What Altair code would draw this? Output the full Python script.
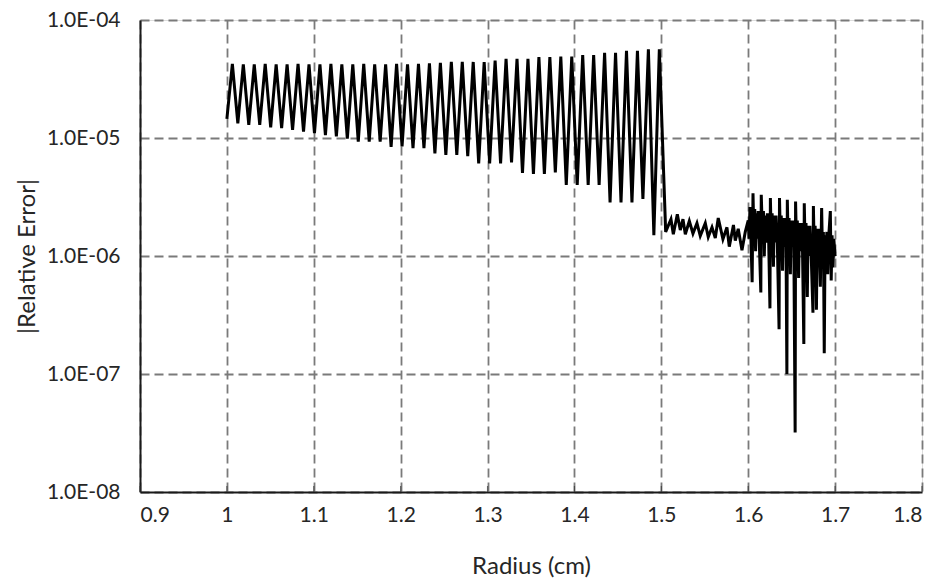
import altair as alt
import pandas as pd

# ---- data ----
# main zigzag 1.0 - 1.5 cm: troughs and peaks
trough_r = [1.0000, 1.0126, 1.0252, 1.0378, 1.0504, 1.0630, 1.0756, 1.0882, 1.1008, 1.1134,
            1.1260, 1.1386, 1.1512, 1.1638, 1.1764, 1.1890, 1.2016, 1.2142, 1.2268, 1.2394,
            1.2520, 1.2646, 1.2772, 1.2898, 1.3024, 1.3150, 1.3276, 1.3402, 1.3528, 1.3654,
            1.3780, 1.3906, 1.4032, 1.4158, 1.4284, 1.4410, 1.4536, 1.4662, 1.4788, 1.4914]
trough_err = [1.45e-5, 1.33e-5, 1.29e-5, 1.29e-5, 1.23e-5, 1.21e-5, 1.17e-5, 1.13e-5, 1.10e-5, 1.06e-5,
              1.03e-5, 9.9e-6, 9.3e-6, 9.3e-6, 9.3e-6, 8.4e-6, 8.5e-6, 8.2e-6, 8.2e-6, 7.4e-6,
              7.2e-6, 7.2e-6, 7.0e-6, 6.1e-6, 6.1e-6, 6.1e-6, 6.2e-6, 5.05e-6, 4.95e-6, 4.95e-6,
              5.1e-6, 4.0e-6, 4.0e-6, 4.0e-6, 4.0e-6, 2.85e-6, 2.85e-6, 2.85e-6, 3.05e-6, 1.5e-6]
peak_r = [1.0063, 1.0189, 1.0315, 1.0441, 1.0567, 1.0693, 1.0819, 1.0945, 1.1071, 1.1197,
          1.1323, 1.1449, 1.1575, 1.1701, 1.1827, 1.1953, 1.2079, 1.2205, 1.2331, 1.2457,
          1.2583, 1.2709, 1.2835, 1.2961, 1.3087, 1.3213, 1.3339, 1.3465, 1.3591, 1.3717,
          1.3843, 1.3969, 1.4095, 1.4221, 1.4347, 1.4473, 1.4599, 1.4725, 1.4851, 1.4977]
peak_err = [4.25e-5, 4.2e-5, 4.2e-5, 4.25e-5, 4.2e-5, 4.2e-5, 4.25e-5, 4.2e-5, 4.2e-5, 4.25e-5,
            4.2e-5, 4.2e-5, 4.25e-5, 4.2e-5, 4.2e-5, 4.25e-5, 4.2e-5, 4.25e-5, 4.3e-5, 4.33e-5,
            4.41e-5, 4.41e-5, 4.41e-5, 4.41e-5, 4.52e-5, 4.68e-5, 4.68e-5, 4.68e-5, 4.85e-5, 4.85e-5,
            4.89e-5, 4.89e-5, 5.05e-5, 5.05e-5, 5.28e-5, 5.28e-5, 5.49e-5, 5.49e-5, 5.65e-5, 5.65e-5]

# 1.5 - 1.6 cm: small oscillation
mid_r = [1.5050, 1.5111, 1.5138, 1.5184, 1.5218, 1.5249, 1.5276, 1.5322, 1.5364, 1.5410,
         1.5448, 1.5506, 1.5540, 1.5583, 1.5621, 1.5655, 1.5709, 1.5755, 1.5782, 1.5830,
         1.5851, 1.5885, 1.5928, 1.5966, 1.6000]
mid_err = [1.6e-6, 2.05e-6, 1.53e-6, 2.26e-6, 1.66e-6, 2.05e-6, 1.53e-6, 1.98e-6, 1.55e-6, 1.90e-6,
           1.48e-6, 1.90e-6, 1.45e-6, 1.75e-6, 1.42e-6, 2.10e-6, 1.39e-6, 1.75e-6, 1.20e-6, 1.83e-6,
           1.35e-6, 1.70e-6, 1.12e-6, 1.60e-6, 2.0e-6]

# 1.6 - 1.7 cm: spiky region
end_r = [1.6010, 1.6020, 1.6030, 1.6045, 1.6055, 1.6065, 1.6075, 1.6085, 1.6095, 1.6105,
         1.6115, 1.6125, 1.6145, 1.6150, 1.6165, 1.6175, 1.6185, 1.6195, 1.6210, 1.6220,
         1.6235, 1.6250, 1.6255, 1.6265, 1.6275, 1.6290, 1.6300, 1.6310, 1.6320, 1.6335,
         1.6355, 1.6360, 1.6370, 1.6380, 1.6395, 1.6405, 1.6415, 1.6425, 1.6435, 1.6445,
         1.6450, 1.6460, 1.6470, 1.6485, 1.6495, 1.6505, 1.6515, 1.6525, 1.6540, 1.6545,
         1.6555, 1.6565, 1.6580, 1.6590, 1.6600, 1.6610, 1.6625, 1.6640, 1.6645, 1.6655,
         1.6665, 1.6680, 1.6690, 1.6700, 1.6710, 1.6725, 1.6745, 1.6750, 1.6760, 1.6770,
         1.6785, 1.6795, 1.6805, 1.6815, 1.6830, 1.6845, 1.6855, 1.6865, 1.6875, 1.6885,
         1.6895, 1.6905, 1.6915, 1.6925, 1.6945, 1.6955, 1.6965, 1.6975, 1.6985, 1.7000]
end_err = [1.4e-6, 2.6e-6, 1.5e-6, 6.0e-7, 3.4e-6, 1.5e-6, 2.5e-6, 1.1e-6, 2.3e-6, 1.4e-6,
           2.4e-6, 1.5e-6, 4.9e-7, 3.3e-6, 1.4e-6, 2.4e-6, 1.0e-6, 2.2e-6, 1.3e-6, 2.3e-6,
           1.4e-6, 3.6e-7, 3.1e-6, 1.4e-6, 2.3e-6, 8.1e-7, 2.2e-6, 1.3e-6, 2.2e-6, 1.3e-6,
           2.4e-7, 3.1e-6, 1.4e-6, 2.2e-6, 7.5e-7, 2.1e-6, 1.2e-6, 2.1e-6, 1.3e-6, 1.0e-7,
           3.0e-6, 1.3e-6, 2.1e-6, 7.0e-7, 2.0e-6, 1.2e-6, 2.0e-6, 1.2e-6, 3.2e-8, 2.9e-6,
           1.3e-6, 2.0e-6, 6.5e-7, 1.9e-6, 1.1e-6, 1.9e-6, 1.1e-6, 1.8e-7, 2.8e-6, 1.2e-6,
           1.9e-6, 4.5e-7, 1.8e-6, 1.0e-6, 1.8e-6, 1.0e-6, 3.3e-7, 2.65e-6, 1.1e-6, 1.8e-6,
           3.5e-7, 1.7e-6, 9.0e-7, 1.7e-6, 5.5e-7, 2.55e-6, 1.0e-6, 1.6e-6, 1.5e-7, 1.5e-6,
           8.5e-7, 1.6e-6, 7.0e-7, 1.4e-6, 2.4e-6, 6.2e-7, 1.5e-6, 8.0e-7, 1.4e-6, 1.0e-6]

x_ticks = [0.9, 1.0, 1.1, 1.2, 1.3, 1.4, 1.5, 1.6, 1.7, 1.8]
y_ticks = [1e-8, 1e-7, 1e-6, 1e-5, 1e-4]

# ---- build the ordered table ----
rows = []
for tr, te, pr, pe in zip(trough_r, trough_err, peak_r, peak_err):
    rows.append((tr, te))
    rows.append((pr, pe))
rows += list(zip(mid_r, mid_err))
rows += list(zip(end_r, end_err))
df = pd.DataFrame(rows, columns=["radius", "err"])
df["idx"] = range(len(df))

FONT = "Lato"
TXT = "#262626"

xscale = alt.Scale(domain=[0.9, 1.8], nice=False, zero=False)
yscale = alt.Scale(type="log", domain=[1e-8, 1e-4], nice=False)

line = alt.Chart(df).mark_line(color="black", strokeWidth=3, strokeJoin="miter", strokeMiterLimit=4).encode(
    x=alt.X("radius:Q", scale=xscale,
            axis=alt.Axis(values=x_ticks, format=".1~f", title="Radius (cm)",
                          grid=True, gridColor="#7a7a7a", gridDash=[9, 5], gridWidth=1.8,
                          ticks=False, domainColor="#1a1a1a", domainWidth=2,
                          labelFont=FONT, labelFontSize=21, labelColor=TXT, labelPadding=12,
                          titleFont=FONT, titleFontSize=24, titleColor=TXT, titleFontWeight="normal",
                          titleY=74, titleBaseline="middle")),
    y=alt.Y("err:Q", scale=yscale,
            axis=alt.Axis(values=y_ticks,
                          labelExpr="'1.0E-0' + round(-log(datum.value)/LN10)",
                          title="|Relative Error|",
                          grid=True, gridColor="#7a7a7a", gridDash=[9, 5], gridWidth=1.8,
                          ticks=False, domainColor="#1a1a1a", domainWidth=2,
                          labelFont=FONT, labelFontSize=21, labelColor=TXT, labelPadding=20,
                          titleFont=FONT, titleFontSize=24, titleColor=TXT, titleFontWeight="normal",
                          titleX=-113, titleY=236, titleAngle=270, titleAlign="center",
                          titleBaseline="middle")),
    order="idx:Q",
)

ticks = alt.Chart(pd.DataFrame({"t": x_ticks})).mark_tick(
    orient="vertical", size=6, thickness=1.2, color="#333333"
).encode(
    x=alt.X("t:Q", scale=xscale),
    y=alt.value(469),
)

chart = alt.layer(line, ticks).properties(
    width=782, height=472,
    autosize=alt.AutoSizeParams(type="none"),
    padding={"left": 140, "top": 20, "right": 18, "bottom": 88},
).configure_view(stroke="#1a1a1a", strokeWidth=2).configure(background="white")

chart.save("out.html", embed_options={"renderer": "svg", "actions": False})
